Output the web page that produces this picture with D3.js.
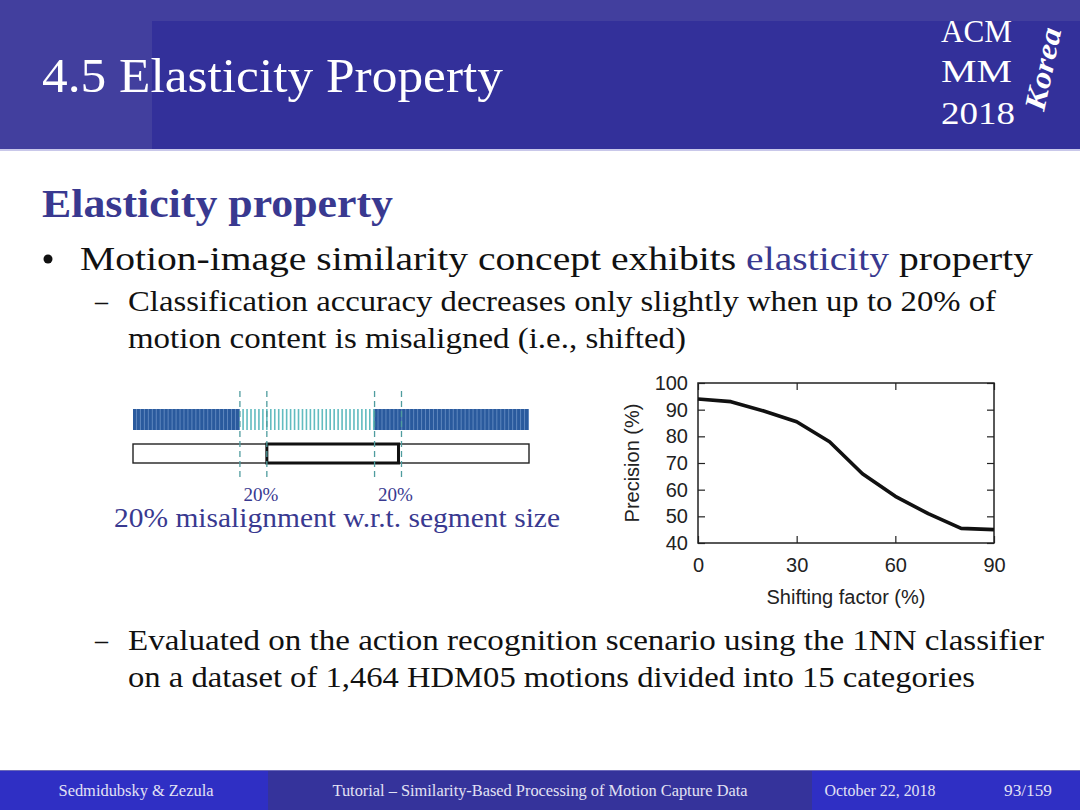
<!DOCTYPE html>
<html lang="en">
<head>
    <meta charset="UTF-8">
    <title>4.5 Elasticity Property</title>
    <script src="https://d3js.org/d3.v7.min.js"></script>
    <style>
        body { margin: 0; background: #fff; }
        svg { display: block; }
        .serif { font-family: "Liberation Serif", "Times New Roman", serif; }
        .sans { font-family: "Liberation Sans", Arial, sans-serif; }
    </style>
</head>
<body>
    <div id="slide"></div>

    <script>
        // Chart data: precision vs. shifting factor
        const shiftFactor = [0, 10, 20, 30, 40, 50, 60, 70, 80, 90];
        const precision = [94, 93, 89.5, 85.5, 78, 66, 57.5, 51, 45.5, 45];
        const xTicks = [0, 30, 60, 90];
        const yTicks = [40, 50, 60, 70, 80, 90, 100];

        // Segment diagram: frames, query segment and 20% shift
        const frameCount = 100;
        const segment = [27, 61];
        const shiftRatio = 0.2;
        const shiftLabels = ["20%", "20%"];

        const W = 1080, H = 810;
        const blueText = "#393990";

        const svg = d3.select("#slide")
            .append("svg")
            .attr("width", W)
            .attr("height", H);

        // helper for text lines stretched to the measured width in the reference
        function line(x, y, width, size, opts = {}) {
            const t = svg.append("text")
                .attr("class", "serif")
                .attr("x", x)
                .attr("y", y)
                .attr("font-size", size)
                .attr("fill", opts.fill || "#111")
                .attr("font-weight", opts.weight || "normal")
                .attr("text-anchor", opts.anchor || "start");
            if (width) t.attr("textLength", width).attr("lengthAdjust", "spacingAndGlyphs");
            return t;
        }

        // Header band
        svg.append("rect").attr("width", W).attr("height", 150).attr("fill", "#423f9e");
        svg.append("rect").attr("x", 152).attr("y", 21).attr("width", W - 152).attr("height", 129).attr("fill", "#33309a");
        svg.append("rect").attr("y", 149).attr("width", W).attr("height", 2).attr("fill", "#c9c8ea");

        line(42, 92, 461, 48, { fill: "#fff" }).text("4.5 Elasticity Property");

        line(941, 42, 71, 31, { fill: "#fff" }).text("ACM");
        line(941, 82, 71, 31, { fill: "#fff" }).text("MM");
        line(941, 124, 74, 31, { fill: "#fff" }).text("2018");
        svg.append("text")
            .attr("class", "serif")
            .attr("transform", "translate(1044,112) rotate(-78)")
            .attr("font-size", 30)
            .attr("font-style", "italic")
            .attr("font-weight", "bold")
            .attr("fill", "#fff")
            .attr("textLength", 84)
            .attr("lengthAdjust", "spacingAndGlyphs")
            .text("Korea");

        // Body text
        line(42, 217, 351, 39, { fill: blueText, weight: "bold" }).text("Elasticity property");

        svg.append("circle").attr("cx", 48).attr("cy", 259).attr("r", 4.5).attr("fill", "#111");
        const bullet = line(80, 270, 953, 34);
        bullet.append("tspan").text("Motion-image similarity concept exhibits ");
        bullet.append("tspan").attr("fill", blueText).text("elasticity");
        bullet.append("tspan").text(" property");

        line(95, 311, 13, 30).text("–");
        line(128, 311, 868, 30).text("Classification accuracy decreases only slightly when up to 20% of");
        line(128, 348, 558, 30).text("motion content is misaligned (i.e., shifted)");

        line(95, 650, 13, 30).text("–");
        line(128, 650, 916, 30).text("Evaluated on the action recognition scenario using the 1NN classifier");
        line(128, 687, 847, 30).text("on a dataset of 1,464 HDM05 motions divided into 15 categories");

        // Segment diagram
        const fx = d3.scaleLinear().domain([0, frameCount]).range([133, 529]);
        const step = fx(1) - fx(0);
        const segLen = segment[1] - segment[0];
        const shifted = [segment[0] + shiftRatio * segLen, segment[1] + shiftRatio * segLen];
        const inSeg = i => i >= segment[0] && i < segment[1];

        const bar = svg.append("g");
        bar.append("rect")
            .attr("x", fx(0)).attr("y", 409)
            .attr("width", fx(frameCount) - fx(0)).attr("height", 21)
            .attr("fill", "#5f87be");
        bar.append("rect")
            .attr("x", fx(segment[0])).attr("y", 409)
            .attr("width", fx(segment[1]) - fx(segment[0])).attr("height", 21)
            .attr("fill", "#fff");
        bar.selectAll("rect.frame")
            .data(d3.range(frameCount))
            .join("rect")
            .attr("class", "frame")
            .attr("x", d => inSeg(d) ? fx(d) + step - 1.6 : fx(d))
            .attr("y", 409)
            .attr("width", d => inSeg(d) ? 1.6 : step - 1)
            .attr("height", 21)
            .attr("fill", d => inSeg(d) ? "#62bcc0" : "#2a5a9d");

        svg.append("rect")
            .attr("x", fx(0)).attr("y", 444)
            .attr("width", fx(frameCount) - fx(0)).attr("height", 19)
            .attr("fill", "#fff").attr("stroke", "#222").attr("stroke-width", 1.4);
        svg.append("rect")
            .attr("x", fx(shifted[0])).attr("y", 444)
            .attr("width", fx(shifted[1]) - fx(shifted[0]) - 3).attr("height", 19)
            .attr("fill", "none").attr("stroke", "#111").attr("stroke-width", 3);

        svg.selectAll("line.cut")
            .data([segment[0], shifted[0], segment[1], shifted[1]])
            .join("line")
            .attr("class", "cut")
            .attr("x1", d => fx(d)).attr("x2", d => fx(d))
            .attr("y1", 391).attr("y2", 481)
            .attr("stroke", "#4f9c9e")
            .attr("stroke-width", 1.3)
            .attr("stroke-dasharray", "6,4");

        svg.selectAll("text.pct")
            .data(shiftLabels)
            .join("text")
            .attr("class", "serif pct")
            .attr("x", (d, i) => fx(shifted[i]) - 6)
            .attr("y", 501)
            .attr("font-size", 19)
            .attr("text-anchor", "middle")
            .attr("fill", blueText)
            .text(d => d);

        line(114, 527, 446, 27, { fill: blueText }).text("20% misalignment w.r.t. segment size");

        // Precision chart
        const x = d3.scaleLinear().domain([0, 90]).range([698, 994]);
        const y = d3.scaleLinear().domain([40, 100]).range([543, 383]);
        const chart = svg.append("g").attr("class", "sans");

        chart.append("g")
            .attr("transform", `translate(${x(0)},0)`)
            .call(d3.axisLeft(y).tickValues(yTicks).tickSize(-7).tickPadding(10));
        chart.append("g")
            .attr("transform", `translate(${x(90)},0)`)
            .call(d3.axisRight(y).tickValues(yTicks).tickSize(-7).tickFormat(""));
        chart.append("g")
            .attr("transform", `translate(0,${y(40)})`)
            .call(d3.axisBottom(x).tickValues(xTicks).tickSize(-7).tickPadding(15));
        chart.append("g")
            .attr("transform", `translate(0,${y(100)})`)
            .call(d3.axisTop(x).tickValues(xTicks).tickSize(-7).tickFormat(""));

        chart.selectAll(".domain").remove();
        chart.selectAll(".tick line").attr("stroke", "#222").attr("stroke-width", 1.2);
        chart.selectAll(".tick text")
            .attr("font-size", 20)
            .attr("font-family", "Liberation Sans, Arial, sans-serif")
            .attr("fill", "#222");

        chart.append("rect")
            .attr("x", x(0)).attr("y", y(100))
            .attr("width", x(90) - x(0)).attr("height", y(40) - y(100))
            .attr("fill", "none").attr("stroke", "#222").attr("stroke-width", 1.5);

        chart.append("path")
            .datum(shiftFactor.map((d, i) => [d, precision[i]]))
            .attr("fill", "none")
            .attr("stroke", "#111")
            .attr("stroke-width", 3.6)
            .attr("stroke-linejoin", "round")
            .attr("d", d3.line().x(d => x(d[0])).y(d => y(d[1])));

        chart.append("text")
            .attr("x", (x(0) + x(90)) / 2)
            .attr("y", 604)
            .attr("text-anchor", "middle")
            .attr("font-size", 20)
            .attr("fill", "#222")
            .text("Shifting factor (%)");

        chart.append("text")
            .attr("transform", `translate(639,${(y(40) + y(100)) / 2}) rotate(-90)`)
            .attr("text-anchor", "middle")
            .attr("font-size", 20)
            .attr("fill", "#222")
            .text("Precision (%)");

        // Footer
        svg.append("rect").attr("y", 770).attr("width", W).attr("height", 40).attr("fill", "#2f2fc4");
        svg.append("rect").attr("x", 268).attr("y", 770).attr("width", 544).attr("height", 40).attr("fill", "#35339b");
        svg.append("rect").attr("y", 770).attr("width", W).attr("height", 1).attr("fill", "#6a68b8");

        const foot = { fill: "#e2e2f4", anchor: "middle" };
        line(136, 796, 155, 16, foot).text("Sedmidubsky & Zezula");
        line(540, 796, 415, 16, foot).text("Tutorial – Similarity-Based Processing of Motion Capture Data");
        line(880, 796, 111, 16, foot).text("October 22, 2018");
        line(1028, 796, 48, 16, foot).text("93/159");
    </script>
</body>
</html>
